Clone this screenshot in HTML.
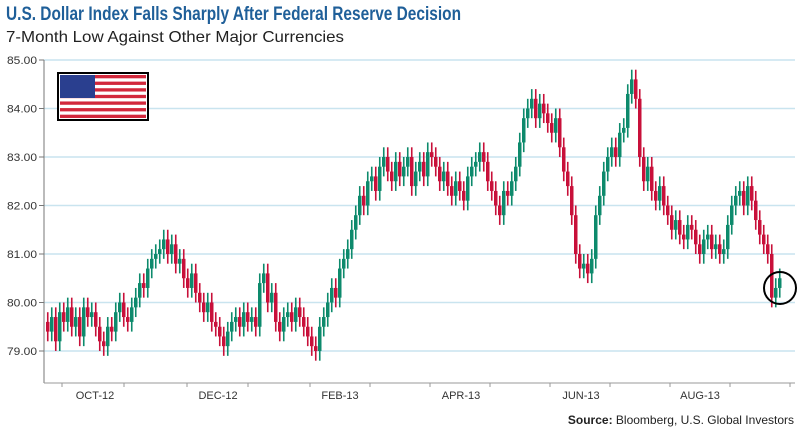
<!DOCTYPE html>
<html><head><meta charset="utf-8"><style>
body{margin:0;background:#fff;width:800px;height:433px;overflow:hidden;font-family:"Liberation Sans",sans-serif}
</style></head><body>
<svg width="800" height="433" xmlns="http://www.w3.org/2000/svg">
<text x="6" y="20" font-size="19" font-weight="bold" fill="#1f5f99" font-family="Liberation Sans Narrow, Liberation Sans, sans-serif" textLength="455" lengthAdjust="spacingAndGlyphs">U.S. Dollar Index Falls Sharply After Federal Reserve Decision</text>
<text x="6" y="42" font-size="16" fill="#222" textLength="338" lengthAdjust="spacingAndGlyphs">7-Month Low Against Other Major Currencies</text>
<g id="grid"></g>
<g id="yaxis"></g>
<g id="xaxis"></g>
<g>
<rect x="58" y="73" width="90" height="47" fill="#fff" stroke="#000" stroke-width="2"/>
<g id="stripes"></g>
<rect x="60" y="75" width="35" height="23" fill="#2a3f8f"/>
</g>
<g id="candles"></g>
<circle cx="780" cy="288" r="16" fill="none" stroke="#000" stroke-width="2"/>
<text x="794" y="424" font-size="12" text-anchor="end" fill="#222"><tspan font-weight="bold">Source:</tspan> Bloomberg, U.S. Global Investors</text>
</svg>
<script>
const yTicks=[85,84,83,82,81,80,79];
const xLabels=["OCT-12","DEC-12","FEB-13","APR-13","JUN-13","AUG-13"];
const xLabelIdx=[12.25,43,73.5,103.75,133.75,163.5];
const closes=[79.4,79.7,79.2,79.8,79.6,79.9,79.5,79.7,79.3,79.9,79.7,79.8,79.5,
79.2,79.1,79.5,79.4,79.8,80.0,79.7,79.6,79.9,
80.1,80.4,80.3,80.7,80.9,81.0,81.1,81.3,
81.0,81.2,80.8,80.9,80.5,80.3,80.6,80.2,80.0,79.8,80.0,79.6,79.5,79.3,79.1,
79.4,79.6,79.7,79.5,79.8,79.6,79.7,79.5,
80.4,80.6,80.0,80.2,
79.6,79.4,79.7,79.8,79.6,79.9,79.7,79.5,79.3,79.1,79.0,
79.5,79.7,80.0,80.3,80.1,80.7,80.9,81.1,81.5,81.8,82.2,
82.0,82.5,82.6,82.3,82.8,83.0,82.7,82.5,82.9,82.6,
82.8,83.0,82.4,82.7,82.9,82.6,83.1,83.0,82.8,82.5,
82.7,82.4,82.2,82.5,82.3,82.1,82.6,82.8,
82.9,83.1,82.9,82.5,82.3,
82.0,81.8,82.3,82.2,82.5,
82.8,83.3,83.8,84.0,84.2,83.8,84.1,83.9,83.7,
83.5,83.8,83.2,82.7,82.4,81.8,81.0,
80.7,80.8,80.6,80.9,
81.8,82.2,82.7,83.0,83.2,83.0,83.5,83.6,
84.3,84.6,84.2,
83.0,82.5,82.8,82.3,82.1,82.4,82.0,81.8,81.5,81.7,81.4,81.3,81.6,81.5,
81.2,81.0,81.3,81.4,81.1,81.2,81.0,81.1,81.6,82.0,
82.2,82.3,82.0,82.4,82.1,
81.7,81.4,81.2,81.0,
80.1,80.3,80.5];
const firstOpen=79.6;
const NS="http://www.w3.org/2000/svg";
const y=v=>60+(85-v)*48.5;
const x=i=>46+i*4;
function mk(t,a,p){const e=document.createElementNS(NS,t);for(const k in a)e.setAttribute(k,a[k]);p.appendChild(e);return e;}
const grid=document.getElementById('grid'),ya=document.getElementById('yaxis'),xa=document.getElementById('xaxis');
yTicks.forEach(v=>{
 const l=mk('line',{x1:44,x2:795,y1:y(v),y2:y(v),stroke:'#c9e4ef','stroke-width':1.5},grid);
 
 
 mk('line',{x1:39,x2:44,y1:y(v),y2:y(v),stroke:'#777'},ya);
 const t=mk('text',{x:37,y:y(v)+4,'font-size':11,'text-anchor':'end',fill:'#333',textLength:30,lengthAdjust:'spacingAndGlyphs'},ya);
 t.textContent=v.toFixed(2);
 
 
});
mk('line',{x1:44,x2:44,y1:60,y2:383,stroke:'#777'},ya);
mk('line',{x1:44,x2:795,y1:383,y2:383,stroke:'#999'},xa);
[62,124,187,248,310,370,430,490,550,610,670,730,790].forEach(p=>mk('line',{x1:p,x2:p,y1:383,y2:387,stroke:'#999'},xa));
xLabels.forEach((s,i)=>{
 const t=mk('text',{x:x(xLabelIdx[i]),y:399,'font-size':11,'text-anchor':'middle',fill:'#333'},xa);
 t.textContent=s;
 
 
});
const st=document.getElementById('stripes');
for(let k=0;k<13;k++){if(k%2==0)mk('rect',{x:60,y:75+k*43/13,width:86,height:43/13,fill:'#d2283c'},st);}
const cg=document.getElementById('candles');
closes.forEach((c,i)=>{
 const o=i?closes[i-1]:firstOpen;
 const up=c>=o, col=up?'#0d8a6c':'#c8103a';
 const hi=Math.max(o,c)+0.2, lo=Math.min(o,c)-0.2;
 const g=mk('g',{},cg);
 
 
 mk('line',{x1:x(i)+1.75,x2:x(i)+1.75,y1:y(hi),y2:y(lo),stroke:col,'stroke-width':1.6},g);
 mk('rect',{x:x(i),y:y(Math.max(o,c)),width:3.5,height:Math.max(3,Math.abs(y(o)-y(c))),fill:col},g);
});
</script>
</body></html>
